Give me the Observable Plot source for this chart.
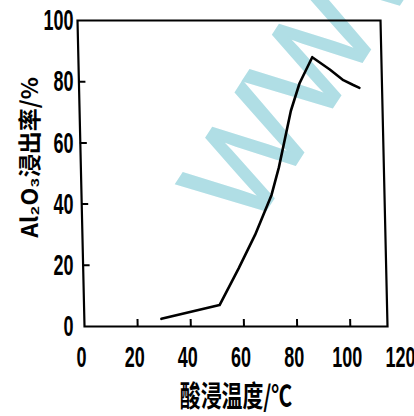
<!DOCTYPE html>
<html>
<head>
<meta charset="utf-8">
<script src="https://cdn.jsdelivr.net/npm/d3@7"></script>
<script src="https://cdn.jsdelivr.net/npm/@observablehq/plot@0.6"></script>
<style>
  html, body { margin: 0; padding: 0; background: white; }
</style>
</head>
<body>
<div id="chart"></div>
<script>
// ---- data ----
const temperature = [29, 51, 58.5, 65, 71.5, 74.5, 79.5, 83, 88, 94.5, 99.5, 103, 105.5]; // 酸浸温度 / ℃
const leachRate   = [2.5, 7, 19, 30, 43, 52, 70.5, 79.5, 88, 84, 80.5, 79, 78];          // Al2O3 浸出率 / %
const xTickLabels = [0, 20, 40, 60, 80, 100, 120];
const xTickMarks  = [20, 40, 60, 80, 100];
const yTickLabels = [0, 20, 40, 60, 80, 100];
const yTickMarks  = [20, 40, 60, 80];
const xDomain = [0, 114];
const yDomain = [0, 100];
const xTitle = "酸浸温度/℃";
const yTitle = "Al₂O₃浸出率/%";
const watermark = "WWW";

const data = temperature.map((t, i) => ({t, r: leachRate[i]}));

const plot = Plot.plot({
  width: 414,
  height: 416,
  marginTop: 20,
  marginBottom: 90,
  marginLeft: 84,
  marginRight: 27,
  style: {background: "white", color: "black", fontFamily: "'Liberation Sans', Arial, sans-serif", fontSize: "30px", fontWeight: "bold", overflow: "visible"},
  x: {domain: xDomain},
  y: {domain: yDomain},
  marks: [
    Plot.frame({stroke: "black", strokeWidth: 2.2}),
    Plot.axisX({ticks: xTickMarks, tickSize: 7, dy: -7, text: null, label: null, strokeWidth: 2}),
    Plot.axisX({ticks: xTickLabels, tickSize: 0, tickPadding: 19, dx: -3, label: null, fontSize: 30}),
    Plot.axisY({ticks: yTickMarks, tickSize: 7, dx: 7, text: null, label: null, strokeWidth: 2}),
    Plot.axisY({ticks: yTickLabels, tickSize: 0, tickPadding: 11, label: null, fontSize: 30}),
    Plot.line(data, {x: "t", y: "r", stroke: "black", strokeWidth: 2.6, strokeLinejoin: "round"}),
    Plot.text([xTitle], {frameAnchor: "bottom", dy: 71, lineAnchor: "middle", fontSize: 29, fontWeight: "bold",
      fontFamily: "'Noto Sans CJK SC', sans-serif", text: d => d}),
    Plot.text([yTitle], {frameAnchor: "left", dx: -54, dy: -16, rotate: -90, lineAnchor: "middle", textAnchor: "middle",
      fontSize: 23, fontWeight: "bold", fontFamily: "'Noto Sans CJK SC', sans-serif", text: d => d})
  ]
});

document.getElementById("chart").appendChild(plot);

// ---- cosmetic post-processing to mimic the scanned figure ----
// condensed lettering: squeeze each text horizontally about its anchor point
function condenseEl(t, sx, pivot) {
  const b = t.getBBox();
  const px = pivot === "end" ? b.x + b.width : b.x + b.width / 2;
  const py = b.y + b.height / 2;
  const tr = t.getAttribute("transform") || "";
  t.setAttribute("transform", `${tr} translate(${px},${py}) scale(${sx},1) translate(${-px},${-py})`);
}
plot.querySelectorAll('[aria-label="x-axis tick label"] text').forEach(t => condenseEl(t, 0.6, "middle"));
plot.querySelectorAll('[aria-label="y-axis tick label"] text').forEach(t => condenseEl(t, 0.6, "end"));
plot.querySelectorAll('text').forEach(t => { if (t.textContent === xTitle) condenseEl(t, 0.72, "middle"); });

// slight shear of the drawn frame, ticks and curve (scan skew)
const k = 7 / 306, yBase = 326;
plot.querySelectorAll('[aria-label="frame"], [aria-label="line"], [aria-label="x-axis tick"], [aria-label="y-axis tick"]').forEach(el => {
  const g = document.createElementNS("http://www.w3.org/2000/svg", "g");
  g.setAttribute("transform", `matrix(1,0,${k},1,${-k * yBase},0)`);
  el.parentNode.insertBefore(g, el);
  g.appendChild(el);
});

// watermark underneath everything
const firstG = plot.querySelector("g");
const wm = document.createElementNS("http://www.w3.org/2000/svg", "text");
wm.textContent = watermark;
wm.setAttribute("transform", "translate(251,233) rotate(-57)");
wm.setAttribute("text-anchor", "start");
wm.setAttribute("font-family", "'Liberation Sans', Arial, sans-serif");
wm.setAttribute("font-size", "130");
wm.setAttribute("font-weight", "normal");
wm.setAttribute("fill", "#b0dee5");
wm.setAttribute("stroke", "#b0dee5");
wm.setAttribute("stroke-width", "2");
plot.insertBefore(wm, firstG);
</script>
</body>
</html>
